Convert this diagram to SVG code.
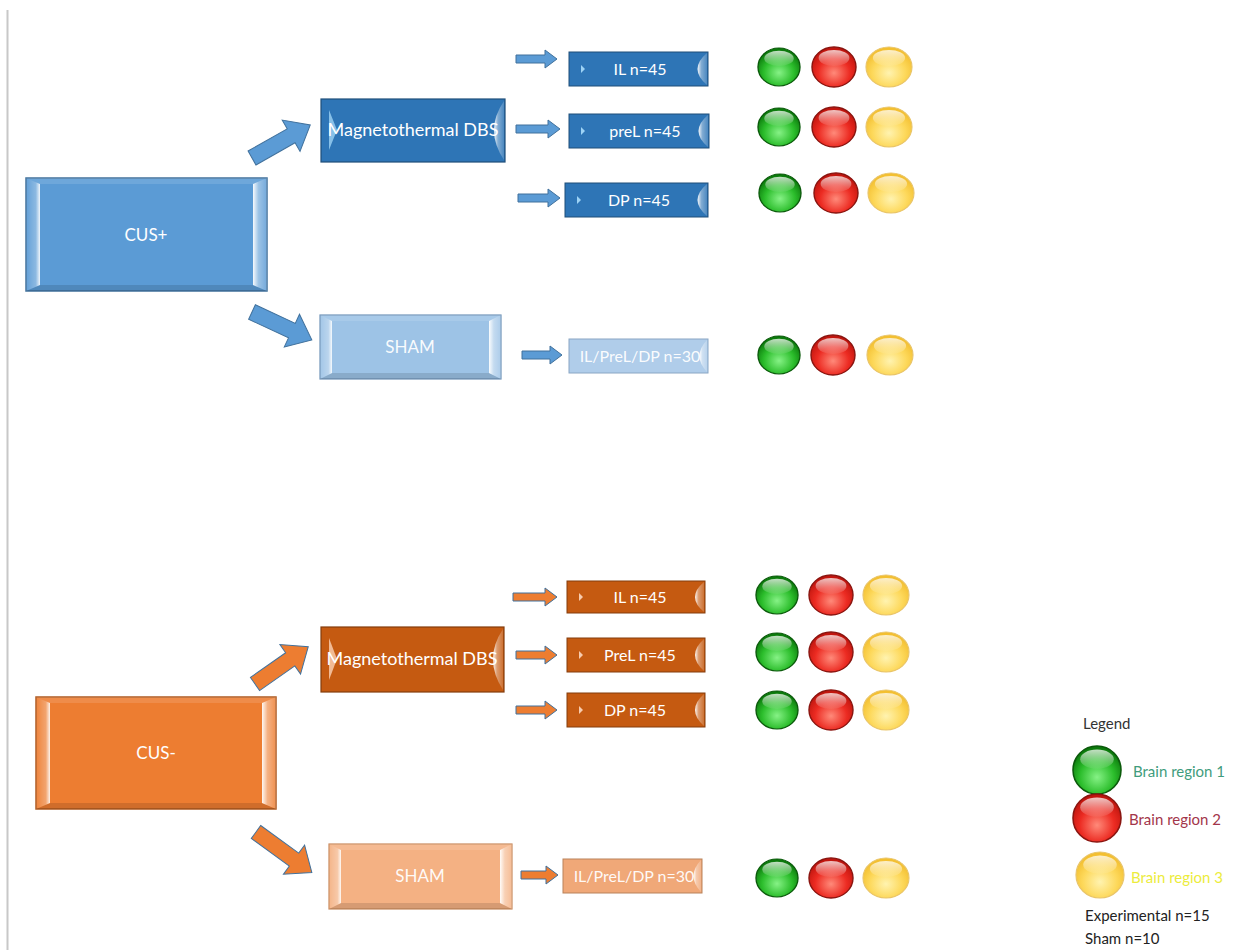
<svg xmlns="http://www.w3.org/2000/svg" xmlns:xlink="http://www.w3.org/1999/xlink" width="1239" height="952" viewBox="0 0 1239 952">
<style>
.lbl{font-family:Lato,"Liberation Sans",sans-serif;fill:#ffffff;text-anchor:middle}
.big{font-size:17px}
.mid{font-size:18px}
.leaf{font-size:16px}
.leg{font-family:Lato,"Liberation Sans",sans-serif;font-size:15px}
.top{fill:#ffffff;fill-opacity:0.12}
.bot{fill:#000000;fill-opacity:0.12}
.arrB{fill:#5B9BD5;stroke:#41719C;stroke-width:1}
.arrO{fill:#ED7D31;stroke:#41719C;stroke-width:1}
</style>
<defs>
<linearGradient id="hlL" x1="0" y1="0" x2="1" y2="0">
<stop offset="0" stop-color="#fff" stop-opacity="0.05"/>
<stop offset="0.7" stop-color="#fff" stop-opacity="0.3"/>
<stop offset="1" stop-color="#fff" stop-opacity="0.9"/>
</linearGradient>
<linearGradient id="hlR" x1="1" y1="0" x2="0" y2="0">
<stop offset="0" stop-color="#fff" stop-opacity="0.15"/>
<stop offset="0.6" stop-color="#fff" stop-opacity="0.4"/>
<stop offset="1" stop-color="#fff" stop-opacity="0.95"/>
</linearGradient>
<radialGradient id="gGreen" cx="0.5" cy="0.65" r="0.6">
<stop offset="0" stop-color="#86f286"/>
<stop offset="0.6" stop-color="#2bbd2b"/>
<stop offset="1" stop-color="#0c7a0c"/>
</radialGradient>
<radialGradient id="gRed" cx="0.5" cy="0.65" r="0.6">
<stop offset="0" stop-color="#ff8a7a"/>
<stop offset="0.6" stop-color="#ec2b22"/>
<stop offset="1" stop-color="#c0150e"/>
</radialGradient>
<radialGradient id="gYel" cx="0.5" cy="0.65" r="0.6">
<stop offset="0" stop-color="#fff3b0"/>
<stop offset="0.6" stop-color="#fdd85a"/>
<stop offset="1" stop-color="#f3bf30"/>
</radialGradient>
<linearGradient id="gloss" x1="0" y1="0" x2="0" y2="1">
<stop offset="0" stop-color="#fff" stop-opacity="0.75"/>
<stop offset="1" stop-color="#fff" stop-opacity="0.05"/>
</linearGradient>
<g id="ballGreen"><circle r="20" fill="url(#gGreen)" stroke="#0b5a0b" stroke-width="1.3"/><ellipse cy="-9" rx="14" ry="8" fill="url(#gloss)"/></g>
<g id="ballRed"><circle r="20" fill="url(#gRed)" stroke="#8a1510" stroke-width="1.3"/><ellipse cy="-9" rx="14" ry="8" fill="url(#gloss)"/></g>
<g id="ballYel"><circle r="20" fill="url(#gYel)" stroke="#e9c56a" stroke-width="1"/><ellipse cy="-9" rx="14" ry="8" fill="url(#gloss)"/></g>
</defs>

<rect width="1239" height="952" fill="#ffffff"/>
<line x1="7.5" y1="10" x2="7.5" y2="950" stroke="#c8c8c8" stroke-width="2"/>

<g id="connectors">
<path class="arrB" transform="translate(252,158) rotate(-29.6)" d="M0,-8 L45,-8 L45,-18 L67,0 L45,18 L45,8 L0,8 Z"/>
<path class="arrB" transform="translate(252,312) rotate(25)" d="M0,-8 L44,-8 L44,-18 L66,0 L44,18 L44,8 L0,8 Z"/>
<path class="arrB" d="M516,55 H545 V50 L557,59 L545,68 V63 H516 Z"/>
<path class="arrB" d="M516,125 H548 V120 L560,129 L548,138 V133 H516 Z"/>
<path class="arrB" d="M518,194 H548 V189 L560,198 L548,207 V202 H518 Z"/>
<path class="arrB" d="M522,351 H550 V346 L562,355 L550,364 V359 H522 Z"/>
<path class="arrO" transform="translate(255,684) rotate(-35)" d="M0,-8 L43,-8 L43,-18 L65,0 L43,18 L43,8 L0,8 Z"/>
<path class="arrO" transform="translate(256,832) rotate(36)" d="M0,-8 L47,-8 L47,-18 L69,0 L47,18 L47,8 L0,8 Z"/>
<path class="arrO" d="M513,593 H545 V588 L557,597 L545,606 V601 H513 Z"/>
<path class="arrO" d="M516,651 H545 V646 L557,655 L545,664 V659 H516 Z"/>
<path class="arrO" d="M516,706 H545 V701 L557,710 L545,719 V714 H516 Z"/>
<path class="arrO" d="M521,871 H546 V866 L558,875 L546,884 V879 H521 Z"/>
</g>

<g id="cus-plus">
<rect x="26" y="178" width="241" height="113" fill="#5B9BD5" stroke="#41719C" stroke-width="1.5"/>
<polygon class="top" points="26,178 267,178 253,184 40,184"/>
<polygon class="bot" points="26,291 267,291 253,285 40,285"/>
<polygon fill="url(#hlL)" points="26,178 40,184 40,285 26,291"/>
<polygon fill="url(#hlR)" points="267,178 253,184 253,285 267,291"/>
<text class="lbl big" x="146" y="241">CUS+</text>
</g>

<g id="mag-top">
<rect x="321" y="99" width="184" height="63" fill="#2E75B6" stroke="#1F4E79" stroke-width="1.2"/>
<polygon fill="#9dd3f5" fill-opacity="0.8" points="329,110 337,130 329,150"/>
<path fill="url(#hlR)" d="M504,101 Q484,130 504,160 Z"/>
<text class="lbl mid" x="413" y="136">Magnetothermal DBS</text>
</g>

<g id="sham-top">
<rect x="320" y="315" width="181" height="64" fill="#9DC3E6" stroke="#6f93b8" stroke-width="1.2"/>
<polygon class="top" points="320,315 501,315 489,321 332,321"/>
<polygon class="bot" points="320,379 501,379 489,373 332,373"/>
<polygon fill="url(#hlL)" points="320,315 332,321 332,373 320,379"/>
<polygon fill="url(#hlR)" points="501,315 489,321 489,373 501,379"/>
<text class="lbl big" x="410" y="353" fill-opacity="0.95">SHAM</text>
</g>

<g id="il-top">
<rect x="569" y="52" width="139" height="34" fill="#2E75B6" stroke="#1F4E79" stroke-width="1"/>
<polygon fill="#9dd3f5" points="581,65 585,69 581,73"/>
<path fill="url(#hlR)" d="M707,53 Q688,69 707,85 Z"/>
<text class="lbl leaf" x="640" y="75">IL n=45</text>
</g>

<g id="prel-top">
<rect x="569" y="114" width="140" height="34" fill="#2E75B6" stroke="#1F4E79" stroke-width="1"/>
<polygon fill="#9dd3f5" points="581,127 585,131 581,135"/>
<path fill="url(#hlR)" d="M708,115 Q689,131 708,147 Z"/>
<text class="lbl leaf" x="645" y="137">preL n=45</text>
</g>

<g id="dp-top">
<rect x="565" y="183" width="143" height="34" fill="#2E75B6" stroke="#1F4E79" stroke-width="1"/>
<polygon fill="#9dd3f5" points="577,196 581,200 577,204"/>
<path fill="url(#hlR)" d="M707,184 Q688,200 707,216 Z"/>
<text class="lbl leaf" x="639" y="206">DP n=45</text>
</g>

<g id="sham-leaf-top">
<rect x="569" y="339" width="139" height="34" fill="#B0CDEA" stroke="#8aa6c4" stroke-width="1"/>
<text class="lbl" x="640" y="362" font-size="16" fill-opacity="0.95">IL/PreL/DP n=30</text>
<path fill="url(#hlR)" d="M707,340 Q692,356 707,372 Z"/>
</g>

<g id="cus-minus">
<rect x="36" y="697" width="240" height="112" fill="#ED7D31" stroke="#AE5A21" stroke-width="1.5"/>
<polygon class="top" points="36,697 276,697 262,703 50,703"/>
<polygon class="bot" points="36,809 276,809 262,803 50,803"/>
<polygon fill="url(#hlL)" points="36,697 50,703 50,803 36,809"/>
<polygon fill="url(#hlR)" points="276,697 262,703 262,803 276,809"/>
<text class="lbl big" x="156" y="759">CUS-</text>
</g>

<g id="mag-bot">
<rect x="321" y="627" width="183" height="65" fill="#C55A11" stroke="#843C0C" stroke-width="1.2"/>
<polygon fill="#f8cbad" fill-opacity="0.85" points="329,638 337,659 329,680"/>
<path fill="url(#hlR)" d="M503,629 Q483,659 503,690 Z"/>
<text class="lbl mid" x="412" y="665">Magnetothermal DBS</text>
</g>

<g id="sham-bot">
<rect x="329" y="844" width="183" height="65" fill="#F4B183" stroke="#c98a5e" stroke-width="1.2"/>
<polygon class="top" points="329,844 512,844 500,850 341,850"/>
<polygon class="bot" points="329,909 512,909 500,903 341,903"/>
<polygon fill="url(#hlL)" points="329,844 341,850 341,903 329,909"/>
<polygon fill="url(#hlR)" points="512,844 500,850 500,903 512,909"/>
<text class="lbl big" x="420" y="882" fill-opacity="0.95">SHAM</text>
</g>

<g id="il-bot">
<rect x="567" y="581" width="138" height="32" fill="#C55A11" stroke="#843C0C" stroke-width="1"/>
<polygon fill="#f8cbad" points="579,593 583,597 579,601"/>
<path fill="url(#hlR)" d="M704,582 Q686,597 704,612 Z"/>
<text class="lbl leaf" x="640" y="603">IL n=45</text>
</g>

<g id="prel-bot">
<rect x="567" y="638" width="138" height="34" fill="#C55A11" stroke="#843C0C" stroke-width="1"/>
<polygon fill="#f8cbad" points="579,651 583,655 579,659"/>
<path fill="url(#hlR)" d="M704,639 Q686,655 704,671 Z"/>
<text class="lbl leaf" x="640" y="661">PreL n=45</text>
</g>

<g id="dp-bot">
<rect x="567" y="693" width="138" height="34" fill="#C55A11" stroke="#843C0C" stroke-width="1"/>
<polygon fill="#f8cbad" points="579,706 583,710 579,714"/>
<path fill="url(#hlR)" d="M704,694 Q686,710 704,726 Z"/>
<text class="lbl leaf" x="635" y="716">DP n=45</text>
</g>

<g id="sham-leaf-bot">
<rect x="563" y="859" width="139" height="34" fill="#F0A878" stroke="#b9825a" stroke-width="1"/>
<text class="lbl" x="634" y="882" font-size="16" fill-opacity="0.95">IL/PreL/DP n=30</text>
<path fill="url(#hlR)" d="M701,860 Q686,876 701,892 Z"/>
</g>

<g id="balls-top">
<use xlink:href="#ballGreen" transform="translate(779,67) scale(1.05,0.95)"/>
<use xlink:href="#ballRed" transform="translate(834,67) scale(1.1,1)"/>
<use xlink:href="#ballYel" transform="translate(889,67) scale(1.15,1)"/>
<use xlink:href="#ballGreen" transform="translate(779,127) scale(1.05,0.95)"/>
<use xlink:href="#ballRed" transform="translate(834,127) scale(1.1,1)"/>
<use xlink:href="#ballYel" transform="translate(889,127) scale(1.15,1)"/>
<use xlink:href="#ballGreen" transform="translate(780,193) scale(1.05,0.95)"/>
<use xlink:href="#ballRed" transform="translate(836,193) scale(1.1,1)"/>
<use xlink:href="#ballYel" transform="translate(891,193) scale(1.15,1)"/>
<use xlink:href="#ballGreen" transform="translate(779,355) scale(1.05,0.95)"/>
<use xlink:href="#ballRed" transform="translate(833,355) scale(1.1,1)"/>
<use xlink:href="#ballYel" transform="translate(890,355) scale(1.15,1)"/>
</g>
<g id="balls-bot">
<use xlink:href="#ballGreen" transform="translate(777,595) scale(1.05,0.95)"/>
<use xlink:href="#ballRed" transform="translate(831,595) scale(1.1,1)"/>
<use xlink:href="#ballYel" transform="translate(886,595) scale(1.15,1)"/>
<use xlink:href="#ballGreen" transform="translate(777,652) scale(1.05,0.95)"/>
<use xlink:href="#ballRed" transform="translate(831,652) scale(1.1,1)"/>
<use xlink:href="#ballYel" transform="translate(886,652) scale(1.15,1)"/>
<use xlink:href="#ballGreen" transform="translate(777,710) scale(1.05,0.95)"/>
<use xlink:href="#ballRed" transform="translate(831,710) scale(1.1,1)"/>
<use xlink:href="#ballYel" transform="translate(886,710) scale(1.15,1)"/>
<use xlink:href="#ballGreen" transform="translate(777,878) scale(1.05,0.95)"/>
<use xlink:href="#ballRed" transform="translate(831,878) scale(1.1,1)"/>
<use xlink:href="#ballYel" transform="translate(886,878) scale(1.15,1)"/>
</g>

<g id="legend">
<text class="leg" x="1083" y="729" fill="#333333">Legend</text>
<use xlink:href="#ballGreen" transform="translate(1097,770) scale(1.2,1.2)"/>
<text class="leg" x="1133" y="777" fill="#3f9c7c">Brain region 1</text>
<use xlink:href="#ballRed" transform="translate(1097,818) scale(1.2,1.2)"/>
<text class="leg" x="1129" y="825" fill="#a3364a">Brain region 2</text>
<use xlink:href="#ballYel" transform="translate(1100,875) scale(1.2,1.15)"/>
<text class="leg" x="1131" y="883" fill="#ecec3c">Brain region 3</text>
<text class="leg" x="1085" y="921" fill="#222222">Experimental n=15</text>
<text class="leg" x="1085" y="944" fill="#222222">Sham n=10</text>
</g>
</svg>
